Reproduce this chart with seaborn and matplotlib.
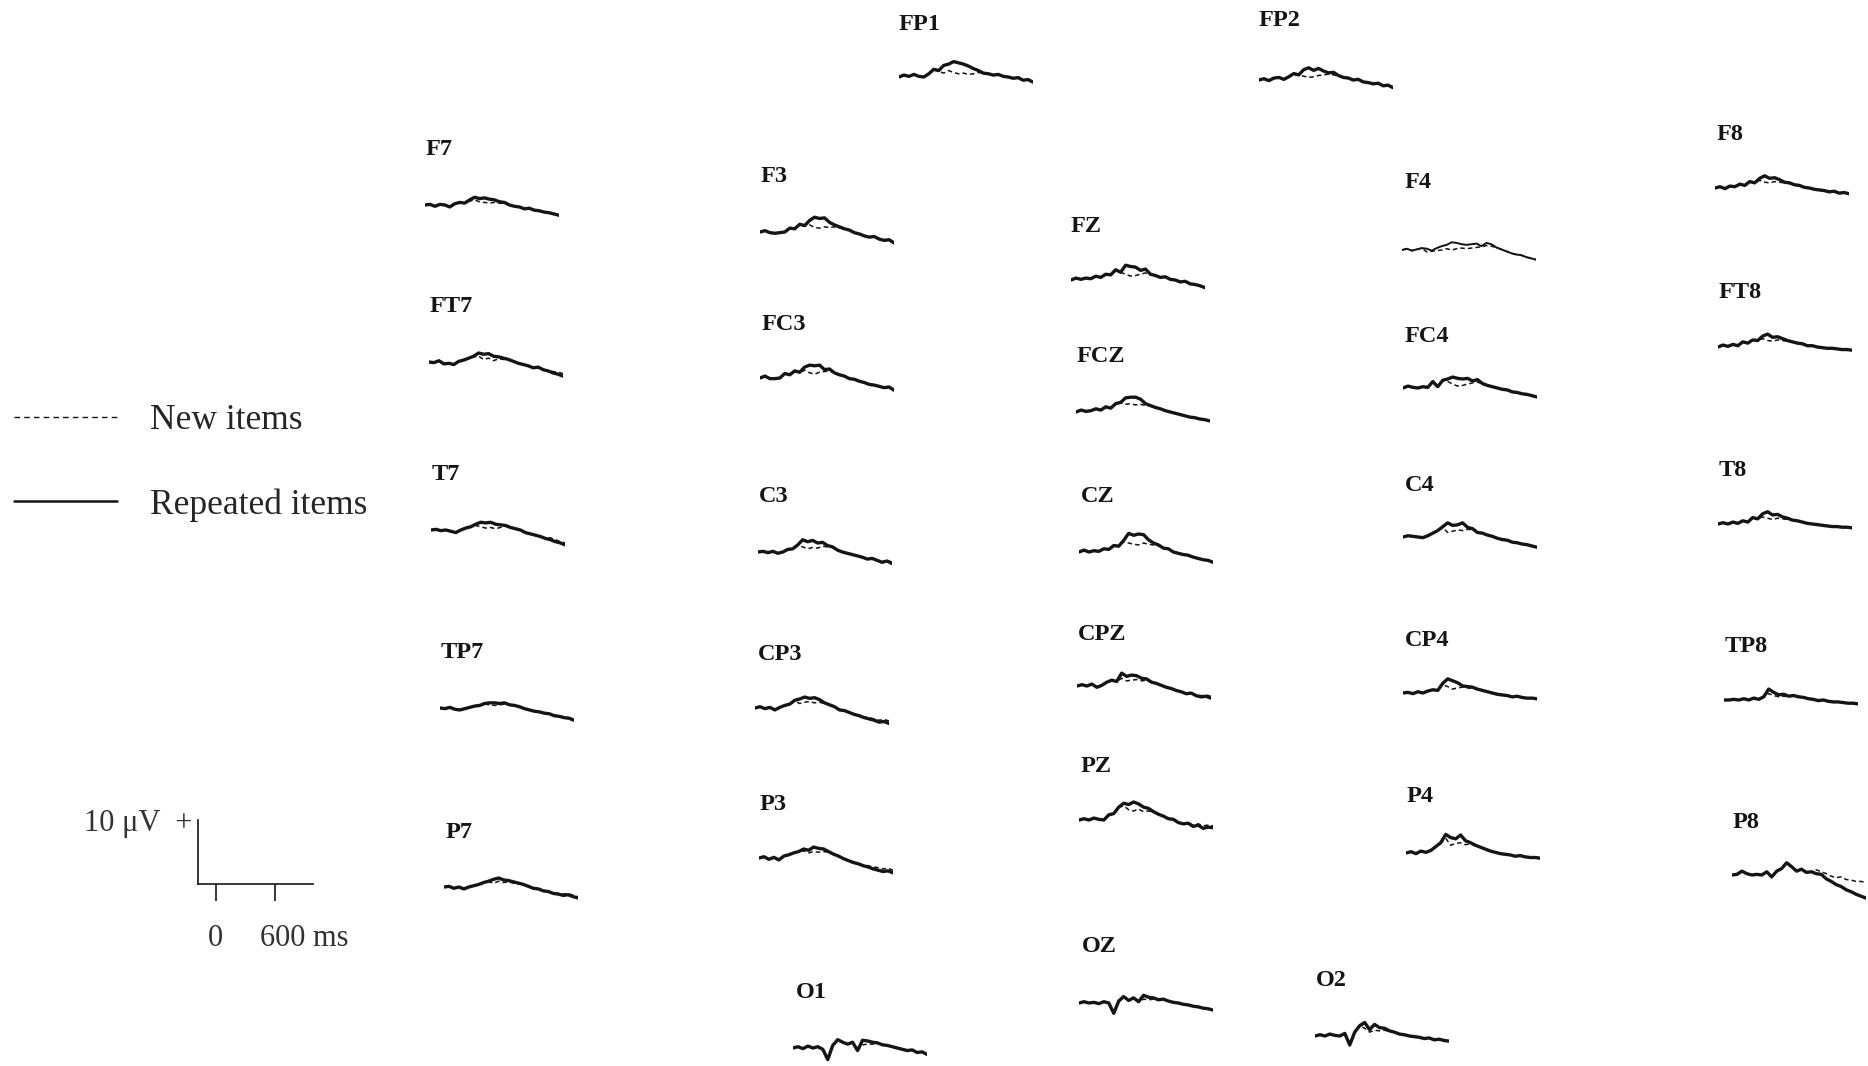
"""
    ERP grand averages per electrode: new vs repeated items
"""
import matplotlib
matplotlib.use('Agg')
import matplotlib.pyplot as plt
import matplotlib.transforms as mtransforms
from matplotlib.lines import Line2D
import numpy as np
import seaborn as sns

# sample times (ms), -200 .. 1150 in 50 ms steps
times = list(range(-200, 1200, 50))

# amplitudes in microvolts (positive up)
rep_fp1 = [0.0, 0.3, 0.1, 0.4, 0.1, 0.0, 0.5, 1.2, 1.0, 1.8, 2.0, 2.4, 2.2, 2.0, 1.7, 1.3, 1.0, 0.6, 0.5, 0.3, 0.4, 0.1, 0.0, -0.2, -0.1, -0.5, -0.4, -0.8]
new_fp1 = [0.0, 0.3, 0.1, 0.4, 0.1, 0.0, 0.5, 1.1, 0.9, 0.6, 1.0, 0.7, 0.5, 0.6, 0.4, 0.5, 0.7, 0.6, 0.5, 0.3, 0.4, 0.1, 0.0, -0.2, -0.1, -0.5, -0.4, -0.8]
rep_fp2 = [0.0, 0.2, -0.1, 0.3, 0.4, 0.1, 0.5, 1.0, 0.8, 1.6, 1.9, 1.5, 1.8, 1.4, 1.1, 1.2, 0.7, 0.4, 0.3, 0.0, 0.1, -0.3, -0.4, -0.6, -0.5, -0.9, -0.8, -1.2]
new_fp2 = [0.0, 0.2, -0.1, 0.3, 0.4, 0.1, 0.5, 0.9, 0.7, 0.6, 0.4, 0.5, 0.7, 0.8, 0.9, 0.8, 0.6, 0.4, 0.3, 0.0, 0.1, -0.3, -0.4, -0.6, -0.5, -0.9, -0.8, -1.2]

rep_f7 = [0.0, 0.1, -0.2, 0.1, 0.0, -0.3, 0.2, 0.4, 0.3, 0.8, 1.2, 1.0, 1.1, 0.9, 0.8, 0.5, 0.4, 0.0, -0.2, -0.3, -0.6, -0.5, -0.8, -0.9, -1.1, -1.2, -1.4, -1.6]
new_f7 = [0.0, 0.1, -0.2, 0.1, 0.0, -0.3, 0.2, 0.4, 0.3, 0.6, 0.8, 0.5, 0.4, 0.3, 0.4, 0.3, 0.2, 0.0, -0.2, -0.3, -0.6, -0.5, -0.8, -0.9, -1.1, -1.2, -1.4, -1.6]
rep_ft7 = [0.0, -0.1, 0.2, -0.3, -0.2, -0.4, 0.1, 0.3, 0.6, 0.9, 1.4, 1.2, 1.3, 0.9, 0.8, 0.6, 0.4, 0.1, -0.2, -0.4, -0.6, -0.9, -0.8, -1.2, -1.4, -1.7, -1.9, -2.2]
new_ft7 = [0.0, -0.1, 0.2, -0.3, -0.2, -0.4, 0.1, 0.3, 0.6, 0.8, 0.9, 0.4, 0.6, 0.2, 0.5, 0.4, 0.3, 0.1, -0.2, -0.4, -0.6, -0.9, -0.8, -1.2, -1.3, -1.5, -1.6, -1.8]
rep_t7 = [0.0, 0.1, -0.1, 0.0, -0.2, -0.4, 0.0, 0.3, 0.5, 0.9, 1.2, 1.1, 1.2, 0.9, 0.8, 0.7, 0.4, 0.2, 0.0, -0.4, -0.6, -0.8, -1.0, -1.3, -1.5, -1.8, -2.0, -2.3]
new_t7 = [0.0, 0.1, -0.1, 0.0, -0.2, -0.4, 0.0, 0.3, 0.5, 0.7, 0.5, 0.3, 0.4, 0.2, 0.4, 0.6, 0.4, 0.2, 0.0, -0.4, -0.6, -0.8, -1.0, -1.3, -1.2, -1.5, -1.8, -2.0]
rep_tp7 = [0.0, -0.1, 0.1, -0.2, -0.3, -0.1, 0.1, 0.3, 0.4, 0.7, 0.8, 0.8, 0.7, 0.8, 0.5, 0.4, 0.2, -0.1, -0.3, -0.5, -0.6, -0.8, -0.9, -1.2, -1.3, -1.5, -1.6, -1.9]
new_tp7 = [0.0, -0.1, 0.1, -0.2, -0.3, -0.1, 0.1, 0.3, 0.4, 0.6, 0.5, 0.4, 0.5, 0.6, 0.5, 0.4, 0.2, -0.1, -0.3, -0.5, -0.6, -0.8, -0.9, -1.1, -1.2, -1.4, -1.5, -1.7]
rep_p7 = [0.0, 0.1, -0.2, 0.0, -0.3, 0.0, 0.2, 0.4, 0.7, 0.9, 1.2, 1.4, 1.1, 1.0, 0.8, 0.6, 0.4, 0.1, -0.2, -0.3, -0.6, -0.7, -1.0, -1.1, -1.3, -1.2, -1.5, -1.7]
new_p7 = [0.0, 0.1, -0.2, 0.0, -0.3, 0.0, 0.2, 0.4, 0.7, 0.8, 0.6, 0.9, 0.7, 0.8, 0.6, 0.5, 0.4, 0.1, -0.2, -0.3, -0.6, -0.7, -0.9, -1.0, -1.1, -1.0, -1.3, -1.5]

rep_f3 = [0.0, 0.2, -0.1, -0.2, -0.1, 0.0, 0.6, 0.5, 1.2, 1.0, 1.8, 2.3, 2.1, 2.2, 1.5, 1.1, 0.8, 0.5, 0.3, -0.1, -0.3, -0.6, -0.8, -0.7, -1.1, -1.3, -1.2, -1.7]
new_f3 = [0.0, 0.2, -0.1, -0.2, -0.1, 0.0, 0.6, 0.5, 1.2, 0.9, 1.1, 0.7, 0.6, 0.8, 0.7, 0.8, 0.6, 0.5, 0.3, -0.1, -0.3, -0.6, -0.8, -0.7, -1.1, -1.3, -1.2, -1.7]
rep_fc3 = [0.0, 0.3, -0.1, -0.1, 0.0, 0.7, 0.5, 1.1, 0.9, 1.7, 2.0, 1.9, 2.0, 1.3, 1.4, 0.8, 0.5, 0.3, -0.1, -0.2, -0.5, -0.7, -1.0, -1.1, -1.3, -1.5, -1.4, -1.9]
new_fc3 = [0.0, 0.3, -0.1, -0.1, 0.0, 0.7, 0.5, 1.1, 0.9, 1.2, 0.8, 0.6, 0.9, 1.0, 1.1, 0.8, 0.5, 0.3, -0.1, -0.2, -0.5, -0.7, -1.0, -1.1, -1.3, -1.5, -1.4, -1.9]
rep_c3 = [0.0, 0.1, -0.1, 0.1, -0.2, 0.0, 0.4, 0.5, 1.1, 1.9, 1.6, 1.8, 1.4, 1.5, 1.0, 0.8, 0.3, 0.0, -0.2, -0.4, -0.6, -0.8, -1.1, -1.0, -1.3, -1.6, -1.4, -1.8]
new_c3 = [0.0, 0.1, -0.1, 0.1, -0.2, 0.0, 0.4, 0.5, 1.0, 0.8, 0.5, 0.7, 0.6, 0.9, 0.8, 0.7, 0.3, 0.0, -0.2, -0.4, -0.6, -0.8, -1.1, -1.0, -1.3, -1.5, -1.3, -1.6]
rep_cp3 = [0.0, 0.2, -0.1, 0.1, -0.3, 0.1, 0.4, 0.6, 1.2, 1.4, 1.7, 1.5, 1.6, 1.3, 0.8, 0.5, 0.2, -0.3, -0.4, -0.7, -1.0, -1.2, -1.5, -1.7, -1.9, -2.2, -2.1, -2.4]
new_cp3 = [0.0, 0.2, -0.1, 0.1, -0.3, 0.1, 0.4, 0.6, 1.1, 0.7, 0.9, 1.0, 0.8, 0.9, 0.7, 0.5, 0.2, -0.3, -0.4, -0.7, -1.0, -1.2, -1.4, -1.5, -1.7, -1.9, -1.8, -2.0]
rep_p3 = [0.0, 0.2, -0.2, 0.1, -0.3, 0.3, 0.5, 0.8, 1.0, 1.4, 1.2, 1.7, 1.5, 1.4, 1.0, 0.6, 0.3, -0.1, -0.4, -0.7, -0.9, -1.2, -1.4, -1.7, -1.9, -2.1, -2.0, -2.3]
new_p3 = [0.0, 0.2, -0.2, 0.1, -0.3, 0.3, 0.5, 0.8, 1.0, 1.1, 0.8, 1.0, 0.9, 1.0, 0.9, 0.6, 0.3, -0.1, -0.4, -0.7, -0.9, -1.1, -1.2, -1.4, -1.5, -1.7, -1.6, -1.9]
rep_o1 = [0.0, 0.2, -0.1, 0.3, 0.0, 0.2, -0.2, -1.8, 0.4, 1.3, 0.9, 0.6, 0.9, -0.4, 1.2, 1.1, 0.9, 0.8, 0.5, 0.4, 0.2, 0.0, -0.2, -0.4, -0.3, -0.7, -0.6, -1.0]
new_o1 = [0.0, 0.2, -0.1, 0.3, 0.0, 0.2, -0.2, -1.8, 0.4, 1.3, 0.9, 0.6, 0.9, -0.4, 0.5, 0.6, 0.6, 0.7, 0.5, 0.4, 0.2, 0.0, -0.2, -0.4, -0.3, -0.7, -0.6, -1.0]

rep_fz = [0.0, 0.3, 0.1, 0.3, 0.2, 0.6, 0.4, 0.9, 0.8, 1.6, 1.2, 2.3, 2.1, 2.0, 1.5, 1.7, 0.9, 0.7, 0.4, 0.5, 0.1, 0.0, -0.3, -0.2, -0.6, -0.7, -0.9, -1.2]
new_fz = [0.0, 0.3, 0.1, 0.3, 0.2, 0.6, 0.4, 0.9, 0.8, 1.4, 1.2, 0.9, 0.6, 0.7, 0.9, 1.1, 0.8, 0.7, 0.4, 0.5, 0.1, 0.0, -0.3, -0.2, -0.6, -0.7, -0.9, -1.2]
rep_fcz = [0.0, 0.3, 0.1, 0.2, 0.5, 0.3, 0.8, 0.6, 1.3, 1.5, 2.2, 2.3, 2.3, 2.0, 1.3, 1.0, 0.7, 0.5, 0.2, 0.0, -0.2, -0.4, -0.6, -0.8, -0.9, -1.1, -1.2, -1.4]
new_fcz = [0.0, 0.3, 0.1, 0.2, 0.5, 0.3, 0.8, 0.6, 1.3, 1.4, 1.2, 1.3, 1.1, 1.2, 1.0, 0.9, 0.7, 0.5, 0.2, 0.0, -0.2, -0.4, -0.6, -0.8, -0.9, -1.1, -1.2, -1.4]
rep_cz = [0.0, 0.3, 0.0, 0.2, 0.1, 0.5, 0.4, 1.0, 0.9, 1.8, 2.9, 2.6, 2.8, 2.7, 1.9, 1.4, 1.1, 0.6, 0.5, 0.0, -0.2, -0.4, -0.5, -0.8, -1.0, -1.2, -1.3, -1.6]
new_cz = [0.0, 0.3, 0.0, 0.2, 0.1, 0.5, 0.4, 1.0, 0.9, 1.6, 1.4, 1.2, 1.1, 1.4, 1.2, 1.1, 1.0, 0.6, 0.5, 0.0, -0.2, -0.4, -0.5, -0.8, -1.0, -1.2, -1.3, -1.6]
rep_cpz = [0.0, 0.2, 0.0, 0.3, -0.2, 0.1, 0.6, 0.9, 0.7, 2.0, 1.5, 1.7, 1.6, 1.2, 1.1, 0.6, 0.4, 0.1, -0.2, -0.4, -0.7, -0.9, -1.2, -1.1, -1.5, -1.7, -1.6, -1.9]
new_cpz = [0.0, 0.2, 0.0, 0.3, -0.2, 0.1, 0.6, 0.9, 0.7, 1.2, 0.8, 0.9, 1.0, 0.8, 0.9, 0.6, 0.4, 0.1, -0.2, -0.4, -0.7, -0.9, -1.2, -1.1, -1.4, -1.5, -1.4, -1.6]
rep_pz = [0.0, 0.2, 0.0, 0.3, 0.1, 0.0, 0.8, 1.0, 2.0, 2.6, 2.4, 2.8, 2.5, 2.0, 1.8, 1.3, 0.9, 0.6, 0.2, 0.1, -0.4, -0.6, -0.5, -1.0, -0.8, -1.3, -1.1, -1.2]
new_pz = [0.0, 0.2, 0.0, 0.3, 0.1, 0.0, 0.8, 1.0, 2.0, 2.2, 1.6, 1.4, 1.7, 1.3, 1.4, 1.2, 0.9, 0.6, 0.2, 0.1, -0.4, -0.6, -0.5, -0.8, -0.6, -0.9, -0.8, -0.9]
rep_oz = [0.0, 0.2, 0.0, 0.1, -0.1, 0.2, 0.0, -1.6, 0.3, 1.0, 0.4, 0.8, 0.2, 1.2, 0.9, 0.8, 0.5, 0.6, 0.3, 0.1, 0.0, -0.2, -0.3, -0.5, -0.6, -0.8, -0.9, -1.1]
new_oz = [0.0, 0.2, 0.0, 0.1, -0.1, 0.2, 0.0, -1.6, 0.3, 1.0, 0.4, 0.8, 0.2, 0.6, 0.5, 0.6, 0.5, 0.6, 0.3, 0.1, 0.0, -0.2, -0.3, -0.5, -0.6, -0.8, -0.9, -1.1]

rep_f4 = [0.0, 0.2, -0.1, 0.1, 0.3, 0.2, -0.1, 0.3, 0.6, 0.8, 1.2, 1.1, 0.9, 0.8, 0.9, 1.0, 0.6, 1.1, 0.9, 0.4, 0.1, -0.2, -0.5, -0.7, -0.8, -1.1, -1.3, -1.5]
new_f4 = [0.0, 0.2, -0.1, 0.1, 0.3, -0.3, -0.2, -0.1, 0.0, 0.2, 0.0, 0.2, 0.3, 0.2, 0.3, 0.4, 0.5, 0.7, 0.6, 0.4, 0.1, -0.2, -0.5, -0.7, -0.8, -1.1, -1.3, -1.5]
rep_fc4 = [0.0, 0.3, 0.1, 0.0, 0.2, 0.1, 1.0, 0.2, 1.2, 1.4, 1.7, 1.5, 1.4, 1.5, 1.1, 1.3, 0.7, 0.4, 0.2, 0.0, -0.2, -0.3, -0.6, -0.7, -0.9, -1.0, -1.2, -1.4]
new_fc4 = [0.0, 0.3, 0.1, 0.0, 0.2, 0.1, 1.0, 0.2, 1.2, 1.0, 0.6, 0.3, 0.4, 0.6, 0.8, 0.9, 0.7, 0.4, 0.2, 0.0, -0.2, -0.3, -0.6, -0.7, -0.9, -1.0, -1.2, -1.4]
rep_c4 = [0.0, 0.2, 0.1, 0.0, -0.1, 0.2, 0.6, 1.0, 1.6, 2.2, 1.8, 1.9, 2.2, 1.5, 1.3, 0.7, 0.6, 0.3, 0.1, -0.2, -0.4, -0.5, -0.8, -0.9, -1.1, -1.2, -1.4, -1.6]
new_c4 = [0.0, 0.2, 0.1, 0.0, -0.1, 0.2, 0.6, 1.0, 1.5, 0.7, 0.9, 1.1, 1.0, 1.2, 1.1, 0.7, 0.6, 0.3, 0.1, -0.2, -0.4, -0.5, -0.8, -0.9, -1.1, -1.2, -1.4, -1.6]
rep_cp4 = [0.0, 0.1, -0.1, 0.2, 0.0, 0.3, 0.5, 0.4, 1.5, 2.2, 1.9, 1.6, 1.1, 1.0, 0.9, 0.6, 0.4, 0.2, 0.0, -0.2, -0.3, -0.4, -0.6, -0.5, -0.7, -0.8, -0.8, -0.9]
new_cp4 = [0.0, 0.1, -0.1, 0.2, 0.0, 0.3, 0.5, 0.4, 1.3, 1.0, 0.6, 0.8, 0.9, 0.8, 0.7, 0.6, 0.4, 0.2, 0.0, -0.2, -0.3, -0.4, -0.6, -0.5, -0.7, -0.8, -0.8, -0.9]
rep_p4 = [0.0, 0.2, -0.1, 0.3, 0.1, 0.4, 1.0, 1.6, 2.9, 2.4, 2.2, 2.8, 1.9, 1.6, 1.2, 0.9, 0.6, 0.3, 0.1, -0.1, -0.2, -0.3, -0.5, -0.4, -0.6, -0.7, -0.7, -0.8]
new_p4 = [0.0, 0.2, -0.1, 0.3, 0.1, 0.4, 1.0, 1.6, 2.3, 1.2, 1.5, 1.6, 1.3, 1.4, 1.1, 0.9, 0.6, 0.3, 0.1, -0.1, -0.2, -0.3, -0.5, -0.4, -0.6, -0.7, -0.7, -0.8]
rep_o2 = [0.0, 0.2, 0.0, 0.3, 0.1, 0.0, 0.4, -1.4, 0.6, 1.6, 2.1, 1.0, 1.8, 1.3, 1.2, 0.8, 0.6, 0.3, 0.2, 0.0, -0.1, -0.2, -0.4, -0.3, -0.6, -0.5, -0.7, -0.8]
new_o2 = [0.0, 0.2, 0.0, 0.3, 0.1, 0.0, 0.4, -1.4, 0.6, 1.6, 1.2, 0.6, 0.9, 0.8, 0.9, 0.7, 0.6, 0.3, 0.2, 0.0, -0.1, -0.2, -0.4, -0.3, -0.6, -0.5, -0.7, -0.8]

rep_f8 = [0.0, 0.2, -0.1, 0.3, 0.2, 0.6, 0.4, 1.0, 0.8, 1.5, 1.9, 1.5, 1.6, 1.3, 0.9, 0.8, 0.5, 0.4, 0.1, 0.0, -0.2, -0.3, -0.4, -0.6, -0.5, -0.8, -0.7, -0.9]
new_f8 = [0.0, 0.2, -0.1, 0.3, 0.2, 0.6, 0.4, 1.0, 0.8, 1.2, 0.9, 0.8, 1.0, 0.9, 0.8, 0.7, 0.5, 0.4, 0.1, 0.0, -0.2, -0.3, -0.4, -0.6, -0.5, -0.8, -0.7, -0.9]
rep_ft8 = [0.0, 0.3, 0.1, 0.4, 0.2, 0.8, 0.6, 1.1, 1.0, 1.7, 2.0, 1.5, 1.6, 1.3, 1.0, 0.8, 0.6, 0.5, 0.2, 0.2, 0.0, -0.1, -0.2, -0.2, -0.3, -0.4, -0.4, -0.5]
new_ft8 = [0.0, 0.3, 0.1, 0.4, 0.2, 0.8, 0.6, 1.1, 1.0, 1.3, 1.0, 0.9, 1.1, 1.0, 0.9, 0.8, 0.6, 0.5, 0.2, 0.2, 0.0, -0.1, -0.2, -0.2, -0.3, -0.4, -0.4, -0.5]
rep_t8 = [0.0, 0.2, 0.0, 0.3, 0.1, 0.5, 0.3, 1.0, 0.8, 1.6, 1.9, 1.4, 1.5, 1.1, 0.9, 0.6, 0.5, 0.3, 0.1, 0.0, -0.1, -0.2, -0.3, -0.4, -0.4, -0.5, -0.5, -0.6]
new_t8 = [0.0, 0.2, 0.0, 0.3, 0.1, 0.5, 0.3, 1.0, 0.8, 1.1, 0.9, 0.7, 0.9, 0.8, 0.7, 0.6, 0.5, 0.3, 0.1, 0.0, -0.1, -0.2, -0.3, -0.4, -0.4, -0.5, -0.5, -0.6]
rep_tp8 = [0.0, 0.0, 0.1, 0.0, 0.2, 0.0, 0.3, 0.1, 0.5, 1.7, 1.2, 0.8, 0.9, 0.6, 0.7, 0.5, 0.4, 0.2, 0.1, -0.1, 0.0, -0.2, -0.3, -0.3, -0.4, -0.5, -0.5, -0.6]
new_tp8 = [0.0, 0.0, 0.1, 0.0, 0.2, 0.0, 0.3, 0.1, 0.5, 1.0, 0.7, 0.5, 0.6, 0.5, 0.6, 0.5, 0.4, 0.2, 0.1, -0.1, 0.0, -0.2, -0.3, -0.3, -0.4, -0.5, -0.5, -0.6]
rep_p8 = [0.0, 0.1, 0.6, 0.2, 0.0, 0.1, 0.0, 0.5, -0.3, 0.6, 1.0, 1.9, 1.3, 0.6, 0.9, 0.4, 0.5, 0.2, 0.1, -0.6, -1.0, -1.5, -1.8, -2.3, -2.6, -3.0, -3.3, -3.6]
new_p8 = [0.0, 0.1, 0.6, 0.2, 0.0, 0.1, 0.0, 0.5, -0.3, 0.6, 1.0, 1.9, 1.3, 0.6, 0.9, 0.4, 0.5, 0.8, 0.5, 0.2, -0.2, -0.4, -0.3, -0.7, -0.8, -1.0, -1.0, -1.2]

waves = {
    'FP1': (rep_fp1, new_fp1), 'FP2': (rep_fp2, new_fp2),
    'F7': (rep_f7, new_f7), 'FT7': (rep_ft7, new_ft7), 'T7': (rep_t7, new_t7),
    'TP7': (rep_tp7, new_tp7), 'P7': (rep_p7, new_p7),
    'F3': (rep_f3, new_f3), 'FC3': (rep_fc3, new_fc3), 'C3': (rep_c3, new_c3),
    'CP3': (rep_cp3, new_cp3), 'P3': (rep_p3, new_p3), 'O1': (rep_o1, new_o1),
    'FZ': (rep_fz, new_fz), 'FCZ': (rep_fcz, new_fcz), 'CZ': (rep_cz, new_cz),
    'CPZ': (rep_cpz, new_cpz), 'PZ': (rep_pz, new_pz), 'OZ': (rep_oz, new_oz),
    'F4': (rep_f4, new_f4), 'FC4': (rep_fc4, new_fc4), 'C4': (rep_c4, new_c4),
    'CP4': (rep_cp4, new_cp4), 'P4': (rep_p4, new_p4), 'O2': (rep_o2, new_o2),
    'F8': (rep_f8, new_f8), 'FT8': (rep_ft8, new_ft8), 'T8': (rep_t8, new_t8),
    'TP8': (rep_tp8, new_tp8), 'P8': (rep_p8, new_p8),
}

# layout in figure pixels: label x, label y, trace left x, trace baseline y
layout = {
    'FP1': (899, 24, 899, 77), 'FP2': (1259, 21, 1259, 80),
    'F7': (426, 149, 425, 205), 'FT7': (430, 307, 429, 362), 'T7': (432, 474, 431, 530),
    'TP7': (441, 653, 440, 708), 'P7': (446, 832, 444, 887),
    'F3': (761, 176, 760, 232), 'FC3': (762, 324, 760, 378), 'C3': (759, 497, 758, 552),
    'CP3': (758, 654, 755, 708), 'P3': (760, 805, 759, 858), 'O1': (796, 992, 793, 1048),
    'FZ': (1071, 226, 1071, 280), 'FCZ': (1077, 357, 1076, 412), 'CZ': (1081, 497, 1079, 552),
    'CPZ': (1078, 634, 1077, 686), 'PZ': (1081, 766, 1079, 820), 'OZ': (1082, 947, 1079, 1003),
    'F4': (1405, 182, 1402, 250), 'FC4': (1405, 336, 1403, 388), 'C4': (1405, 485, 1403, 537),
    'CP4': (1405, 641, 1403, 693), 'P4': (1407, 797, 1406, 853), 'O2': (1316, 980, 1315, 1036),
    'F8': (1717, 135, 1715, 188), 'FT8': (1719, 292, 1718, 347), 'T8': (1719, 471, 1718, 524),
    'TP8': (1725, 647, 1724, 700), 'P8': (1733, 822, 1732, 875),
}

W, H = 1868, 1066
PX_PER_MS = 0.0993   # 600 ms -> ~60 px
PX_PER_UV = 6.43     # 10 uV -> ~64 px
TRACE_W = (times[-1] - times[0]) * PX_PER_MS
TRACE_H = 90
INK = '#151515'
SERIF = ['Liberation Serif', 'DejaVu Serif']

sns.set_style('white')
plt.rcParams['font.family'] = SERIF

fig = plt.figure(figsize=(W / 100, H / 100), dpi=100)
fig.patch.set_facecolor('white')

for name, (rep, new) in waves.items():
    lx, ly, x0, y0 = layout[name]
    ax = fig.add_axes([x0 / W, 1 - (y0 + TRACE_H / 2) / H, TRACE_W / W, TRACE_H / H])
    half = TRACE_H / 2 / PX_PER_UV
    sns.lineplot(x=times, y=new, ax=ax, color=INK, linewidth=1.1, linestyle=(0, (3, 2)))
    sns.lineplot(x=times, y=rep, ax=ax, color=INK, linewidth=1.4 if name == 'F4' else 2.4)
    ax.set_xlim(times[0], times[-1])
    ax.set_ylim(-half, half)
    ax.set_axis_off()
    ax.patch.set_alpha(0)
    fig.text(lx / W, 1 - ly / H, name, ha='left', va='center', fontsize=17.5,
             fontweight='bold', color=INK, family=SERIF)

# legend
handles = [Line2D([], [], color=INK, lw=1.0, linestyle=(0, (4, 3))),
           Line2D([], [], color=INK, lw=1.8)]
fig.legend(handles, ['New items', 'Repeated items'], loc='upper left',
           bbox_to_anchor=(14 / W, 1 - 404 / H), frameon=False,
           prop={'family': SERIF, 'size': 25.5}, handlelength=2.9, handletextpad=0.95,
           labelspacing=1.45, borderpad=0, borderaxespad=0)

# calibration bar
sx0, sx1, sy0, sy1 = 198, 313, 820, 884
sax = fig.add_axes([sx0 / W, 1 - sy1 / H, (sx1 - sx0) / W, (sy1 - sy0) / H])
sax.set_xlim(-180, 984)
sax.set_ylim(0, 10)
sax.patch.set_alpha(0)
for side in ['top', 'right']:
    sax.spines[side].set_visible(False)
for side in ['left', 'bottom']:
    sax.spines[side].set_color(INK)
    sax.spines[side].set_linewidth(1.2)
sax.set_xticks([0, 600])
sax.set_xticklabels(['0', '600 ms'])
sax.set_yticks([10])
sax.set_yticklabels(['10 \u03bcV  +'])
sax.tick_params(axis='x', bottom=True, direction='out', length=12, width=1.2, color=INK,
                pad=17, labelsize=22, labelcolor='#333333')
sax.tick_params(axis='y', left=True, length=0, pad=4, labelsize=22, labelcolor='#333333')
ms_label = sax.get_xticklabels()[1]
ms_label.set_horizontalalignment('left')
ms_label.set_transform(ms_label.get_transform() +
                       mtransforms.ScaledTranslation(-0.15, 0, fig.dpi_scale_trans))

fig.savefig('out.png', dpi=100, facecolor='white')
